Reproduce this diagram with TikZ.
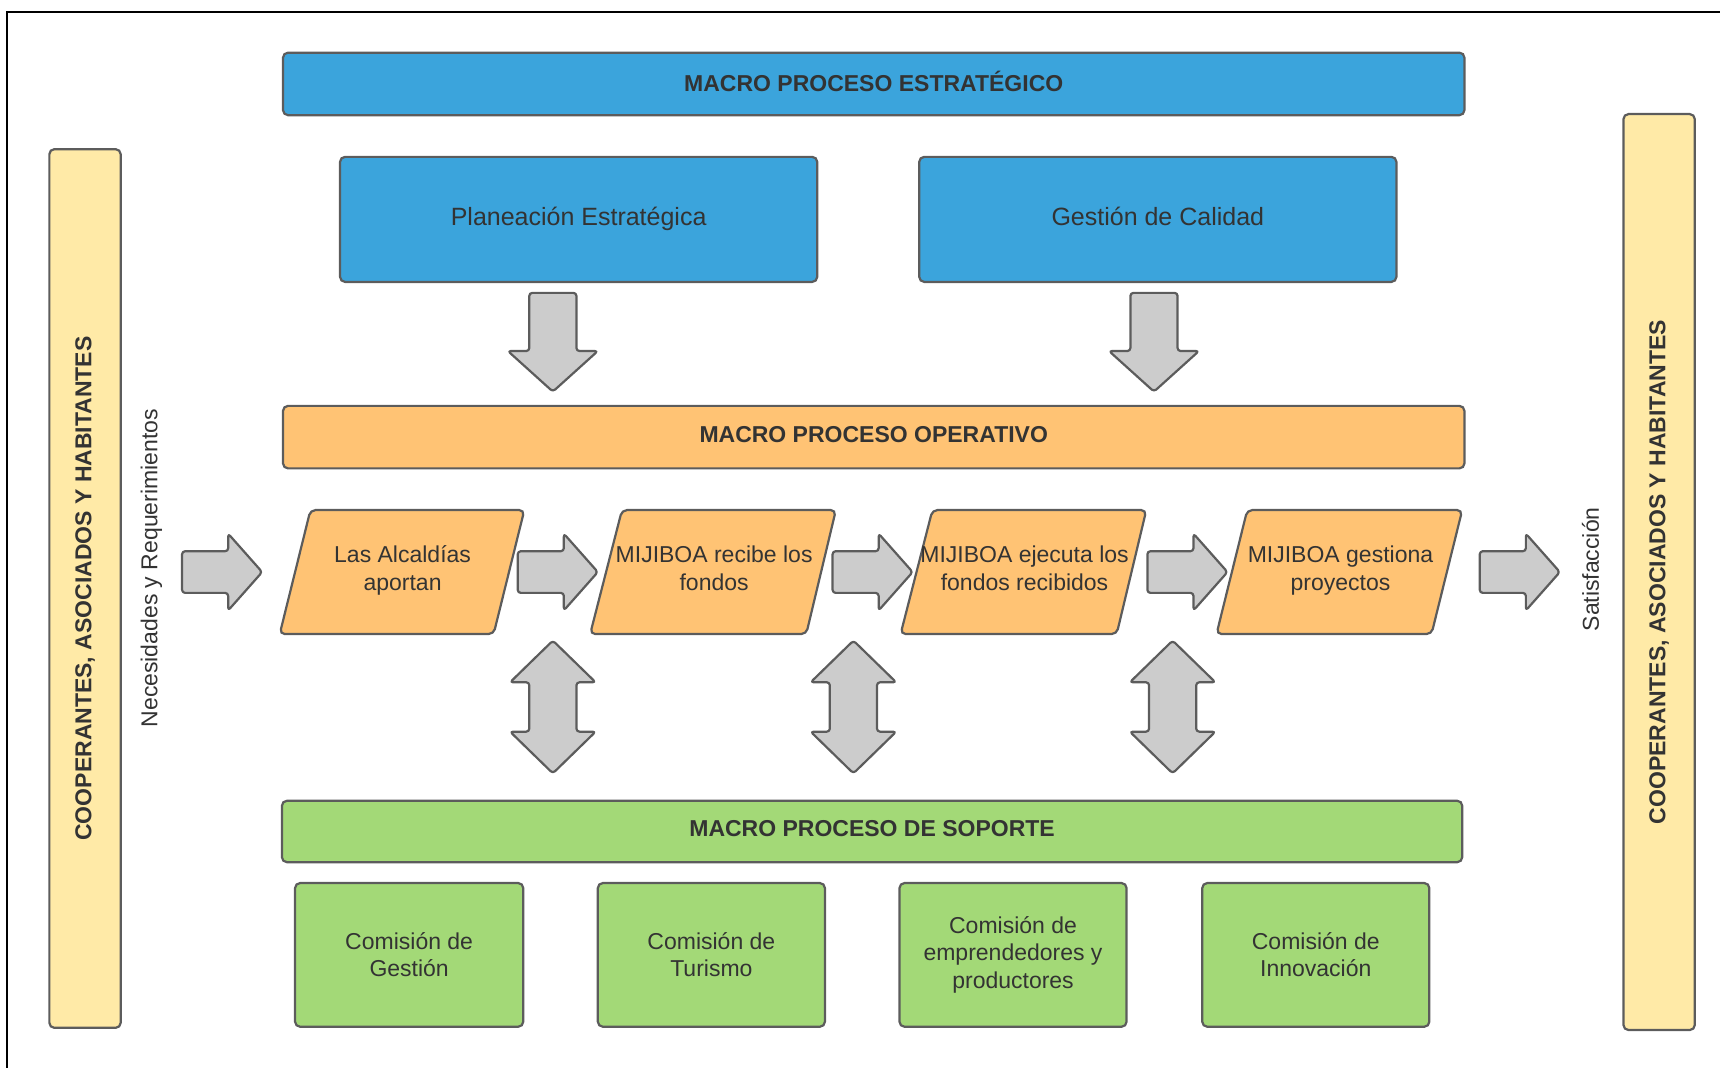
\documentclass[tikz,border=0pt]{standalone}
\usepackage{fontspec}
\setmainfont{Liberation Sans}
\definecolor{cblue}{HTML}{3BA4DC}
\definecolor{corange}{HTML}{FFC374}
\definecolor{cgreen}{HTML}{A3D977}
\definecolor{cyellow}{HTML}{FFEAA7}
\definecolor{cgray}{HTML}{CCCCCC}
\definecolor{bd}{HTML}{5C5C5C}
\definecolor{tx}{HTML}{333333}
\def\pxu{1.097pt}
\newcommand\downblk[1]{\draw[arr] ({#1-21.5},267) -- ({#1+21.5},267) -- ({#1+21.5},320) -- ({#1+41},320) -- (#1,357) -- ({#1-41},320) -- ({#1-21.5},320) -- cycle;}
\newcommand\dblblk[1]{\draw[arr] (#1,584) -- ({#1+39},622) -- ({#1+21.5},622) -- ({#1+21.5},667) -- ({#1+39},667) -- (#1,705) -- ({#1-39},667) -- ({#1-21.5},667) -- ({#1-21.5},622) -- ({#1-39},622) -- cycle;}
\newcommand\rblk[1]{\draw[arr] (#1,502.5) -- ({#1+42},502.5) -- ({#1+42},486.5) -- ({#1+73},521.5) -- ({#1+42},556.5) -- ({#1+42},540.5) -- (#1,540.5) -- cycle;}
\begin{document}
\begin{tikzpicture}[x=1.097pt,y=-1.097pt,
  bx/.style={draw=bd, line width=2.2pt, rounded corners=5pt, inner sep=0pt},
  lbl/.style={text=tx, align=center, font=\fontsize{23}{27.5}\selectfont},
  big/.style={text=tx, align=center, font=\fontsize{25}{30}\selectfont},
  ttl/.style={text=tx, font=\fontsize{23}{27.5}\selectfont\bfseries},
  arr/.style={draw=bd, fill=cgray, line width=2.2pt, rounded corners=3pt, line join=round}]
\useasboundingbox (0,0) rectangle (1568,973);
\draw[line width=2pt] (6.5,990) -- (6.5,11) -- (1590,11);

% side bars
\node[bx, fill=cyellow, minimum width=65*\pxu, minimum height=801*\pxu] (lbar) at (77.5,536.5) {};
\node[ttl, rotate=90] (ltxt) at (lbar.center) {COOPERANTES, ASOCIADOS Y HABITANTES};
\node[bx, fill=cyellow, minimum width=65*\pxu, minimum height=835*\pxu] (rbar) at (1512.5,521.5) {};
\node[ttl, rotate=90] (rtxt) at (rbar.center) {COOPERANTES, ASOCIADOS Y HABITANTES};
\node[lbl, rotate=90] (nec) at (138,518) {Necesidades y Requerimientos};
\node[lbl, rotate=90] (sat) at (1450,519) {Satisfacción};

% strategic
\node[bx, fill=cblue, minimum width=1077*\pxu, minimum height=57*\pxu] (strat) at (796.5,76.5) {};
\node[ttl] (strattxt) at (796.5,74) {MACRO PROCESO ESTRATÉGICO};
\node[bx, fill=cblue, minimum width=435*\pxu, minimum height=114*\pxu] (plan) at (527.5,200) {};
\node[big] (plantxt) at (527.5,200) {Planeación Estratégica};
\node[bx, fill=cblue, minimum width=435*\pxu, minimum height=114*\pxu] (cal) at (1055.5,200) {};
\node[big] (caltxt) at (1055.5,197) {Gestión de Calidad};

\downblk{504}
\downblk{1052}

% operative
\node[bx, fill=corange, minimum width=1077*\pxu, minimum height=57*\pxu] (oper) at (796.5,398.5) {};
\node[ttl] (opertxt) at (796.5,396) {MACRO PROCESO OPERATIVO};

\draw[bx, fill=corange] (283,465) -- (478,465) -- (450,578) -- (255,578) -- cycle;
\draw[bx, fill=corange] (567,465) -- (762,465) -- (735,578) -- (538,578) -- cycle;
\draw[bx, fill=corange] (850,465) -- (1045,465) -- (1018,578) -- (821,578) -- cycle;
\draw[bx, fill=corange] (1137,465) -- (1333,465) -- (1305,578) -- (1109,578) -- cycle;
\node[lbl] (p1) at (367,520) {Las Alcaldías\\aportan};
\node[lbl] (p2) at (651,518) {MIJIBOA recibe los\\fondos};
\node[lbl] (p3) at (934,518) {MIJIBOA ejecuta los\\fondos recibidos};
\node[lbl] (p4) at (1222,520) {MIJIBOA gestiona\\proyectos};

\rblk{166}
\rblk{472}
\rblk{759}
\rblk{1046}
\rblk{1349}

\dblblk{504}
\dblblk{778}
\dblblk{1069}

% support
\node[bx, fill=cgreen, minimum width=1076*\pxu, minimum height=56*\pxu] (sop) at (795,758) {};
\node[ttl] (soptxt) at (795,755) {MACRO PROCESO DE SOPORTE};
\node[bx, fill=cgreen, minimum width=208*\pxu, minimum height=131*\pxu, lbl] (g1) at (373,870.5) {Comisión de\\Gestión};
\node[bx, fill=cgreen, minimum width=207*\pxu, minimum height=131*\pxu, lbl] (g2) at (648.5,870.5) {Comisión de\\Turismo};
\node[bx, fill=cgreen, minimum width=207*\pxu, minimum height=131*\pxu, lbl] (g3) at (923.5,870.5) {Comisión de\\emprendedores y\\productores};
\node[bx, fill=cgreen, minimum width=207*\pxu, minimum height=131*\pxu, lbl] (g4) at (1199.5,870.5) {Comisión de\\Innovación};
\end{tikzpicture}
\end{document}
